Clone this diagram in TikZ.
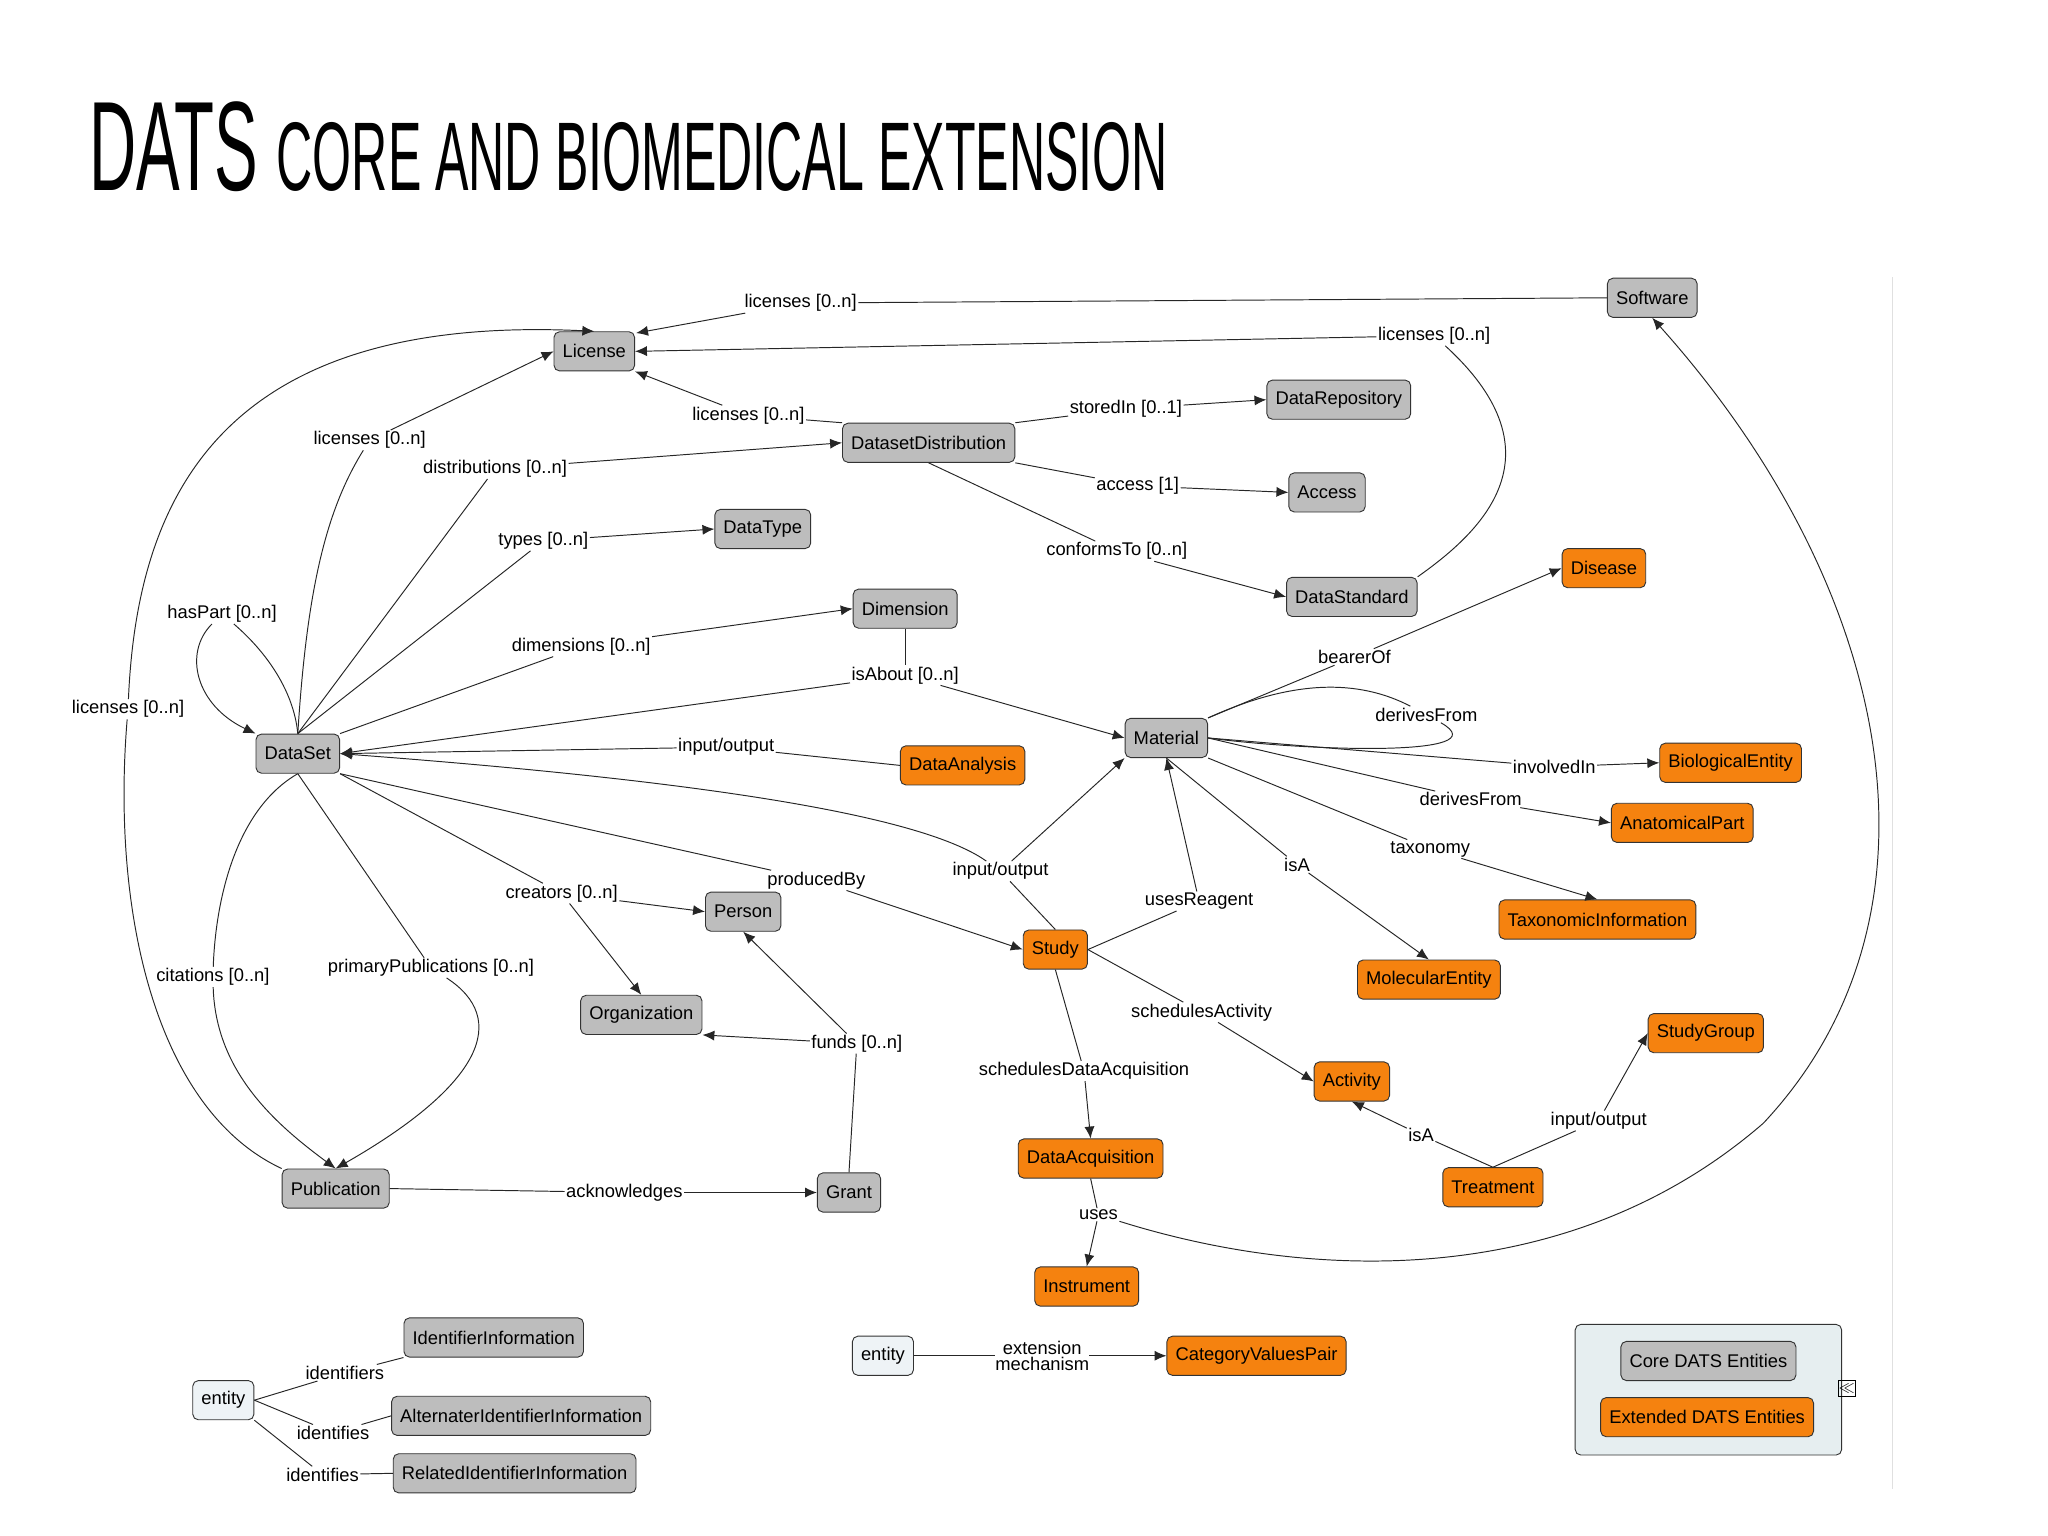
\documentclass[tikz,border=0pt]{standalone}
\usepackage{fontspec}
\setmainfont{Liberation Sans}
\usetikzlibrary{arrows.meta}
\definecolor{coregray}{HTML}{BDBDBD}
\definecolor{extorange}{HTML}{F5820F}
\definecolor{entfill}{HTML}{EEF3F6}
\definecolor{legfill}{HTML}{E6EEF0}
\begin{document}
\begin{tikzpicture}[x=0.05cm,y=-0.05cm,
  every node/.style={font=\fontsize{20}{22}\selectfont},
  box/.style={draw=black!80,line width=1pt,rounded corners=6pt,minimum height=1.5cm,inner xsep=0.33cm,inner ysep=2pt},
  core/.style={box,fill=coregray},
  ext/.style={box,fill=extorange},
  ent/.style={box,fill=entfill},
  lab/.style={fill=white,inner sep=1.5pt},
  e/.style={line width=1.05pt,draw=black!85},
  a/.style={e,-{Latex[length=13pt,width=11pt]}}]
\useasboundingbox (0,0) rectangle (1568,1176);
\draw[black!12,line width=1pt] (1449,212) -- (1449,1140);
\node[anchor=west,inner sep=0] (title) at (68,112) {\resizebox{41.3cm}{3.4cm}{\fontsize{60}{60}\selectfont DATS \fontsize{46}{46}\selectfont CORE AND BIOMEDICAL EXTENSION}};
% nodes
\node[core] (sw) at (1265,228) {Software};
\node[core] (lic) at (455,269) {License};
\node[core] (drep) at (1025,306) {DataRepository};
\node[core] (dd) at (711,339) {DatasetDistribution};
\node[core] (acc) at (1016,377) {Access};
\node[core] (dt) at (584,405) {DataType};
\node[ext] (dis) at (1228,435) {Disease};
\node[core] (dstd) at (1035,457) {DataStandard};
\node[core] (dim) at (693,466) {Dimension};
\node[core] (ds) at (228,577) {DataSet};
\node[core] (mat) at (893,565) {Material};
\node[ext] (da) at (737,586) {DataAnalysis};
\node[ext] (bio) at (1325,584) {BiologicalEntity};
\node[ext] (anat) at (1288,630) {AnatomicalPart};
\node[core] (per) at (569,698) {Person};
\node[ext] (tax) at (1223,704) {TaxonomicInformation};
\node[ext] (st) at (808,727) {Study};
\node[ext] (mol) at (1094,750) {MolecularEntity};
\node[core] (org) at (491,777) {Organization};
\node[ext] (sg) at (1306,791) {StudyGroup};
\node[ext] (act) at (1035,828) {Activity};
\node[ext] (dacq) at (835,887) {DataAcquisition};
\node[core] (pub) at (257,910) {Publication};
\node[core] (gr) at (650,913) {Grant};
\node[ext] (tr) at (1143,909) {Treatment};
\node[ext] (ins) at (832,985) {Instrument};
\node[core] (ii) at (378,1024) {IdentifierInformation};
\node[ent] (en1) at (171,1072) {entity};
\node[core] (aii) at (399,1084) {AlternaterIdentifierInformation};
\node[core] (rii) at (394,1128) {RelatedIdentifierInformation};
\node[ent] (en2) at (676,1038) {entity};
\node[ext] (cvp) at (962,1038) {CategoryValuesPair};
\draw[black!80,line width=1pt,fill=legfill,rounded corners=6pt] (1206,1014) rectangle (1410,1114);
\node[core] (lc) at (1308,1042) {Core DATS Entities};
\node[ext] (le) at (1307,1085) {Extended DATS Entities};
\node[draw,line width=0.8pt,inner sep=0.5pt,minimum size=0.6cm,font=\fontsize{16}{16}\selectfont\bfseries] (ic) at (1414,1063) {$\ll$};
% labels
\node[lab] (l1) at (613,232) {licenses [0..n]};
\node[lab] (l2) at (1098,257) {licenses [0..n]};
\node[lab] (l3) at (573,318) {licenses [0..n]};
\node[lab] (l4) at (283,337) {licenses [0..n]};
\node[lab] (l5) at (98,543) {licenses [0..n]};
\node[lab] (ldist) at (379,359) {distributions [0..n]};
\node[lab] (ltyp) at (416,414) {types [0..n]};
\node[lab] (lhp) at (170,470) {hasPart [0..n]};
\node[lab] (ldim) at (445,495) {dimensions [0..n]};
\node[lab] (lab1) at (693,517) {isAbout [0..n]};
\node[lab] (lio1) at (556,572) {input/output};
\node[lab] (lio2) at (766,667) {input/output};
\node[lab] (lpb) at (625,674) {producedBy};
\node[lab] (lcr) at (430,684) {creators [0..n]};
\node[lab] (lcit) at (163,748) {citations [0..n]};
\node[lab] (lpp) at (330,741) {primaryPublications [0..n]};
\node[lab] (lack) at (478,913) {acknowledges};
\node[lab] (lfu) at (656,799) {funds [0..n]};
\node[lab] (lsto) at (862,313) {storedIn [0..1]};
\node[lab] (lacc) at (871,372) {access [1]};
\node[lab] (lcon) at (855,422) {conformsTo [0..n]};
\node[lab] (lbea) at (1037,503) {bearerOf};
\node[lab] (lder1) at (1092,547) {derivesFrom};
\node[lab] (linv) at (1190,587) {involvedIn};
\node[lab] (lder2) at (1126,612) {derivesFrom};
\node[lab] (ltax) at (1095,650) {taxonomy};
\node[lab] (lisa1) at (993,662) {isA};
\node[lab] (lur) at (918,690) {usesReagent};
\node[lab] (lsa) at (920,775) {schedulesActivity};
\node[lab] (lsda) at (830,820) {schedulesDataAcquisition};
\node[lab] (luse) at (841,930) {uses};
\node[lab] (lisa2) at (1088,869) {isA};
\node[lab] (lio3) at (1224,858) {input/output};
\node[lab] (lid) at (264,1051) {identifiers};
\node[lab] (lids1) at (255,1097) {identifies};
\node[lab] (lids2) at (247,1129) {identifies};
\node[lab,align=center,inner sep=0pt,font=\fontsize{20}{18}\selectfont] (lext) at (798,1038) {extension\\mechanism};
% edges
\draw[e] (sw.west) -- (l1); \draw[a] (l1) -- (487,255);
\draw[e] (dstd.north east) .. controls (1130,410) and (1200,350) .. (l2); \draw[a] (l2) -- (lic.east);
\draw[e] (dd.north west) -- (l3); \draw[a] (l3) -- (lic.south east);
\draw[e] (ds.north) .. controls (235,450) and (250,390) .. (l4); \draw[a] (l4) -- (lic.west);
\draw[e] (pub.north west) .. controls (120,850) and (85,700) .. (l5);
\draw[a] (l5) .. controls (105,380) and (170,240) .. (lic.north);
\draw[e] (ds.north) -- (ldist); \draw[a] (ldist) -- (dd.west);
\draw[e] (ds.north) -- (ltyp); \draw[a] (ltyp) -- (dt.west);
\draw[e] (ds.north) .. controls (225,530) and (205,500) .. (lhp);
\draw[a] (lhp) .. controls (140,500) and (150,540) .. (ds.north west);
\draw[e] (ds.north east) -- (ldim); \draw[a] (ldim) -- (dim.west);
\draw[e] (dim.south) -- (lab1);
\draw[a] (lab1) -- (ds.east); \draw[a] (lab1) -- (mat.west);
\draw[e] (da.west) -- (lio1); \draw[a] (lio1) -- (ds.east);
\draw[e] (st.north) -- (lio2); \draw[a] (lio2) -- (mat.south west);
\draw[a] (lio2) .. controls (700,620) and (500,595) .. (ds.east);
\draw[e] (ds.south east) -- (lpb); \draw[a] (lpb) -- (st.west);
\draw[e] (ds.south east) -- (lcr); \draw[a] (lcr) -- (per.west); \draw[a] (lcr) -- (org.north);
\draw[e] (ds.south) .. controls (180,620) and (165,690) .. (lcit);
\draw[a] (lcit) .. controls (165,820) and (210,860) .. (pub.north);
\draw[e] (ds.south) -- (lpp);
\draw[a] (lpp) .. controls (390,780) and (370,830) .. (pub.north);
\draw[e] (pub.east) -- (lack); \draw[a] (lack) -- (gr.west);
\draw[e] (gr.north) -- (lfu); \draw[a] (lfu) -- (per.south); \draw[a] (lfu) -- (org.south east);
\draw[e] (dd.north east) -- (lsto); \draw[a] (lsto) -- (drep.west);
\draw[e] (dd.south east) -- (lacc); \draw[a] (lacc) -- (acc.west);
\draw[e] (dd.south) -- (lcon); \draw[a] (lcon) -- (dstd.west);
\draw[e] (mat.north east) -- (lbea); \draw[a] (lbea) -- (dis.west);
\draw[e] (mat.north east) .. controls (990,520) and (1040,520) .. (lder1);
\draw[e] (lder1) .. controls (1150,580) and (1000,575) .. (mat.east);
\draw[e] (mat.east) -- (linv); \draw[a] (linv) -- (bio.west);
\draw[e] (mat.east) -- (lder2); \draw[a] (lder2) -- (anat.west);
\draw[e] (mat.south east) -- (ltax); \draw[a] (ltax) -- (tax.north);
\draw[e] (mat.south) -- (lisa1); \draw[a] (lisa1) -- (mol.north);
\draw[e] (st.east) -- (lur); \draw[a] (lur) -- (mat.south);
\draw[e] (st.east) -- (lsa); \draw[a] (lsa) -- (act.west);
\draw[e] (st.south) -- (lsda); \draw[a] (lsda) -- (dacq.north);
\draw[e] (dacq.south) -- (luse); \draw[a] (luse) -- (ins.north);
\draw[a] (luse) .. controls (1000,980) and (1200,990) .. (1350,860) .. controls (1500,700) and (1450,450) .. (sw.south);
\draw[e] (tr.north) -- (lisa2); \draw[a] (lisa2) -- (act.south);
\draw[e] (tr.north) -- (lio3); \draw[a] (lio3) -- (sg.west);
\draw[e] (en1.east) -- (lid); \draw[e] (lid) -- (ii.south west);
\draw[e] (en1.east) -- (lids1); \draw[e] (lids1) -- (aii.west);
\draw[e] (en1.south east) -- (lids2); \draw[e] (lids2) -- (rii.west);
\draw[e] (en2.east) -- (lext); \draw[a] (lext) -- (cvp.west);
\end{tikzpicture}
\end{document}
